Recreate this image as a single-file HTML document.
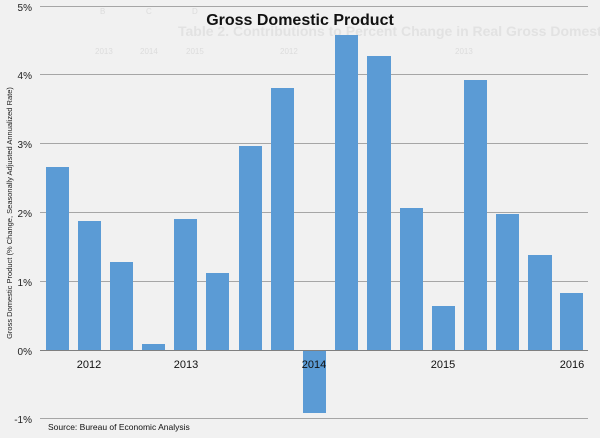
<!DOCTYPE html>
<html><head><style>
body{margin:0;width:600px;height:433px;overflow:hidden;background:#f1f1f1;font-family:"Liberation Sans",sans-serif;}
</style></head><body>
<svg width="600" height="433" xmlns="http://www.w3.org/2000/svg" font-family="Liberation Sans, sans-serif">
<rect width="600" height="433" fill="#f1f1f1"/>
<g fill="#dcdcdc" font-size="8">
<text x="100" y="14">B</text><text x="146" y="14">C</text><text x="192" y="14">D</text>
<text x="95" y="54">2013</text><text x="140" y="54">2014</text><text x="186" y="54">2015</text>
<text x="280" y="54">2012</text><text x="455" y="54">2013</text>
</g>
<text x="178" y="36" font-size="14" font-weight="bold" fill="#e2e2e2">Table 2. Contributions to Percent Change in Real Gross Domestic Product</text>
<g stroke="#a6a6a6" stroke-width="1">
<line x1="40" y1="6.5" x2="588" y2="6.5"/>
<line x1="40" y1="74.5" x2="588" y2="74.5"/>
<line x1="40" y1="143.5" x2="588" y2="143.5"/>
<line x1="40" y1="212.5" x2="588" y2="212.5"/>
<line x1="40" y1="281.5" x2="588" y2="281.5"/>
<line x1="40" y1="418.5" x2="588" y2="418.5"/>
</g>
<g fill="#5b9bd5">
<rect x="46" y="167" width="23" height="183"/>
<rect x="78" y="221" width="23" height="129"/>
<rect x="110" y="262" width="23" height="88"/>
<rect x="142" y="344" width="23" height="6"/>
<rect x="174" y="219" width="23" height="131"/>
<rect x="206" y="273" width="23" height="77"/>
<rect x="239" y="146" width="23" height="204"/>
<rect x="271" y="88" width="23" height="262"/>
<rect x="303" y="350" width="23" height="63"/>
<rect x="335" y="35" width="23" height="315"/>
<rect x="367" y="56" width="24" height="294"/>
<rect x="400" y="208" width="23" height="142"/>
<rect x="432" y="306" width="23" height="44"/>
<rect x="464" y="80" width="23" height="270"/>
<rect x="496" y="214" width="23" height="136"/>
<rect x="528" y="255" width="24" height="95"/>
<rect x="560" y="293" width="23" height="57"/>
</g>
<line x1="40" y1="350.5" x2="588" y2="350.5" stroke="#808080" stroke-width="1"/>
<g font-size="10" fill="#222" text-anchor="end">
<text x="32" y="11">5%</text><text x="32" y="79">4%</text><text x="32" y="148">3%</text>
<text x="32" y="217">2%</text><text x="32" y="286">1%</text><text x="32" y="355">0%</text>
<text x="32" y="423">-1%</text>
</g>
<g font-size="11" fill="#111" text-anchor="middle">
<text x="89" y="368">2012</text><text x="186" y="368">2013</text><text x="314" y="368">2014</text>
<text x="443" y="368">2015</text><text x="572" y="368">2016</text>
</g>
<text x="300" y="25" font-size="16" font-weight="bold" text-anchor="middle" fill="#111">Gross Domestic Product</text>
<text transform="translate(12,213) rotate(-90)" font-size="7.5" text-anchor="middle" fill="#222">Gross Domestic Product (% Change, Seasonally Adjusted Annualized Rate)</text>
<text x="48" y="430" font-size="8.5" fill="#111">Source: Bureau of Economic Analysis</text>
</svg>
</body></html>
